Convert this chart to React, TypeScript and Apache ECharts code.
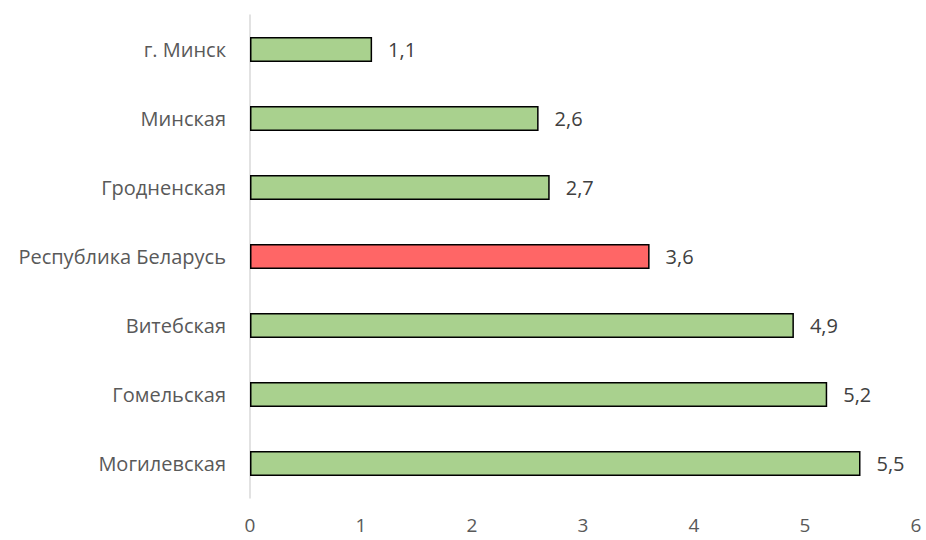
import React, { useEffect, useRef } from "react";
import * as echarts from "echarts";

const categories = ["г. Минск", "Минская", "Гродненская", "Республика Беларусь", "Витебская", "Гомельская", "Могилевская"];
const values = [1.1, 2.6, 2.7, 3.6, 4.9, 5.2, 5.5];
const highlight = "Республика Беларусь";
const xTicks = [0, 1, 2, 3, 4, 5, 6];

export default function App() {
  const ref = useRef<HTMLDivElement>(null);
  useEffect(() => {
    const chart = echarts.init(ref.current!, undefined, { renderer: "svg" });
    chart.setOption({
      animation: false,
      grid: { left: 250, right: 10, top: 15, bottom: 42, containLabel: false },
      xAxis: {
        type: "value",
        min: xTicks[0],
        max: xTicks[xTicks.length - 1],
        interval: 1,
        axisLine: { show: false },
        axisTick: { show: false },
        splitLine: { show: false },
        axisLabel: { color: "#595959", fontSize: 19, lineHeight: 16, fontFamily: "Open Sans", margin: 19 },
      },
      yAxis: {
        type: "category",
        inverse: true,
        data: categories,
        axisLine: { show: true, lineStyle: { color: "#d9d9d9", width: 1.5 } },
        axisTick: { show: false },
        axisLabel: { color: "#595959", fontSize: 20, fontFamily: "Open Sans", margin: 24 },
      },
      series: [
        {
          type: "bar",
          barWidth: 25,
          data: values.map((v, i) => ({
            value: v,
            itemStyle: {
              color: categories[i] === highlight ? "#ff6666" : "#a9d18e",
              borderColor: "#000",
              borderWidth: 1.5,
            },
          })),
          label: {
            show: true,
            position: "right",
            distance: 16,
            color: "#404040",
            fontSize: 20,
            fontFamily: "Open Sans",
            formatter: (p: any) => String(p.value).replace(".", ","),
          },
        },
      ],
    });
    return () => chart.dispose();
  }, []);
  return <div ref={ref} style={{ width: 926, height: 540, position: "absolute", left: 0, top: 0 }} />;
}
